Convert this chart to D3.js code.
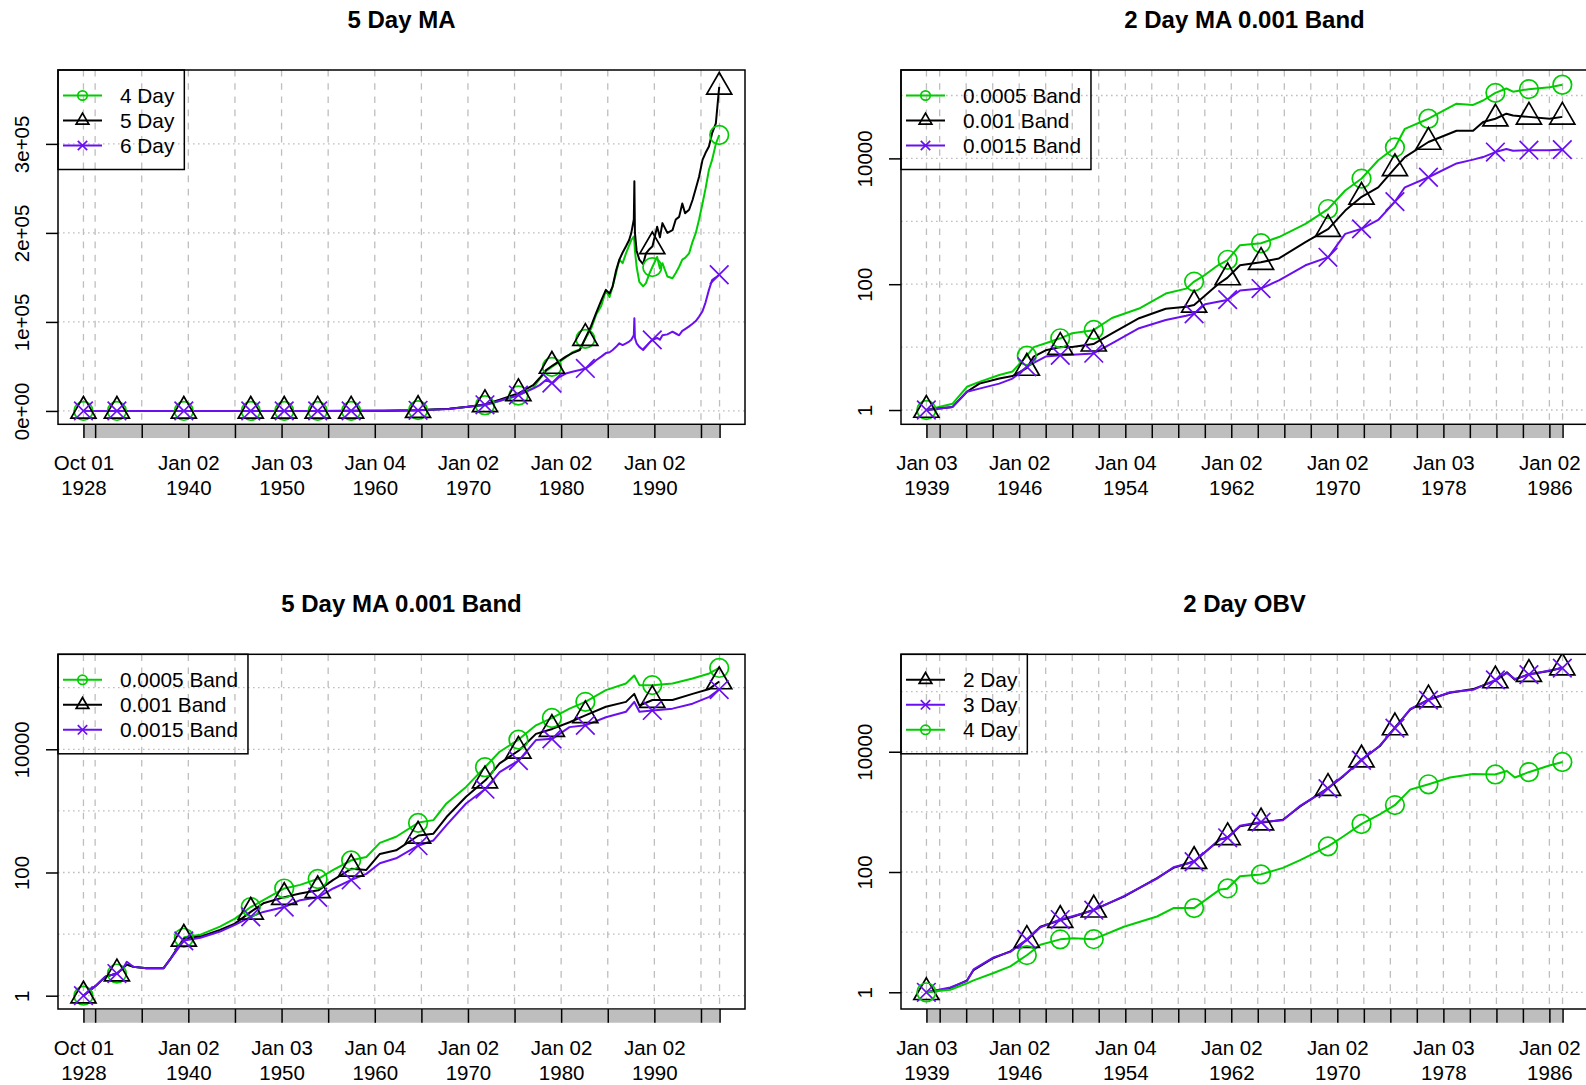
<!DOCTYPE html>
<html><head><meta charset="utf-8">
<script src="https://cdn.jsdelivr.net/npm/d3@7"></script>
<style>
body{margin:0;background:#fff}
svg{display:block}
text{font-family:"Liberation Sans",Arial,Helvetica,sans-serif}
</style>
</head><body>
<svg id="c" width="1586" height="1085"></svg>
<script>
// ---------------- DATA ----------------
const titles = ["5 Day MA", "2 Day MA 0.001 Band", "5 Day MA 0.001 Band", "2 Day OBV"];

// panel 1: 5 Day MA (linear)
const p1Years = [1928.75,1932.39,1936.0,1939.56,1943.0,1946.74,1950.27,1953.91,1957.55,1961.0,1964.62,1968.0,1970.0,1971.9,1973.4,1975.47,1977.0,1977.7,1978.4,1979.08,1979.8,1980.5,1981.2,1982.0,1982.7,1983.2,1983.75,1984.3,1984.8,1985.2,1985.53,1985.9,1986.25,1986.6,1986.96,1987.3,1987.53,1987.8,1987.86,1987.92,1988.1,1988.39,1988.8,1989.1,1989.5,1989.8,1990.3,1990.6,1990.87,1991.4,1991.95,1992.3,1992.66,1993.0,1993.3,1993.73,1994.1,1994.45,1994.8,1995.17,1995.5,1995.86,1996.2,1996.6,1996.96];
const p1Day4 = [1,2,3,5,9,16,28,50,100,250,900,2600,4800,6500,11000,17500,26000,36000,45000,50000,55000,60000,66000,69000,83000,92000,108000,118000,135000,128000,140000,155000,170000,166000,177000,186000,192000,196000,190000,180000,162000,145000,140000,143500,155000,162000,173000,160000,166000,151000,149000,155000,162000,170000,172000,177000,190000,200000,215000,233000,250000,271000,282000,300000,310000];
const p1Day5 = [1,2,3,5,8,15,26,45,90,220,800,2500,4800,7500,12500,20000,29000,37000,46000,51000,56000,61000,65000,68500,84000,95000,110000,124000,136000,132000,140000,158000,170000,178000,185000,192000,200000,215000,258000,200000,180000,170000,165000,177000,182000,185000,207000,195000,211000,200000,203000,215000,218000,233000,222000,226000,237000,250000,263000,282000,290000,297000,312000,323000,364000];
const p1Day6 = [1,2,3,5,8,14,24,40,80,190,700,2300,4700,7000,11500,18000,25000,29000,35000,31000,38000,42000,44000,46000,48000,52000,57000,61000,65000,66000,68500,72000,76000,74000,76000,78000,80000,85000,104000,82000,76000,72000,68500,72000,77000,80000,82000,80000,85000,86000,89000,87000,85000,90000,92000,95000,98000,101000,106000,112000,122000,136000,147000,150000,153000];

// panel 2: 2 Day MA 0.001 Band (log)
const p2Years = [1939.0,1940.98,1942.06,1943.0,1944.5,1945.5,1946.6,1947.1,1948.0,1949.1,1950.0,1951.6,1953.0,1955.05,1957.06,1958.6,1959.2,1960.03,1961.0,1961.7,1962.66,1964.24,1965.6,1967.6,1969.33,1970.6,1971.84,1973.09,1974.34,1975.1,1976.88,1979.0,1980.25,1981.0,1981.93,1982.76,1983.26,1984.44,1986.02,1986.98];
const p2Band0005 = [1,1.26,2.34,2.8,3.6,4.1,7.4,10,11.5,13.8,16.6,18.6,29,41,71,85,110,141,200,240,417,447,562,912,1580,3090,4790,9330,14800,29500,42700,74100,70800,83200,110000,129000,115000,126000,135000,148000];
const p2Band001  = [1,1.12,1.95,2.63,3.16,3.47,4.68,7.08,8.9,10,10,11.2,16.6,28.8,40.7,43.7,46.8,66,100,126,200,224,257,468,759,1480,2450,3470,6920,10500,18200,27500,27500,38000,42700,51300,47900,45700,42700,45700];
const p2Band0015 = [1,1.12,1.95,2.19,2.63,3.16,4.9,5.62,7.08,7.41,7.59,7.94,11.5,20,26.9,31.6,33.9,47.9,52.5,56.2,79.4,85.1,115,200,269,631,759,1050,2040,3470,5010,8320,9550,10500,12600,14100,13200,13500,13500,13800];

// panel 3: 5 Day MA 0.001 Band (log)
const p3Years = [1928.75,1930.14,1931.1,1932.35,1933.0,1933.4,1934.1,1935.5,1937.35,1938.1,1939.56,1941.3,1943.4,1945.0,1946.7,1948.05,1950.3,1952.0,1953.95,1955.55,1957.5,1959.1,1960.55,1962.3,1964.7,1966.3,1967.7,1969.8,1971.9,1973.4,1975.47,1977.3,1979.05,1980.9,1982.6,1984.8,1986.96,1987.85,1988.4,1989.8,1991.95,1994.1,1995.9,1996.96];
const p3Band0005 = [1,1.48,2.04,2.29,2.8,3.2,2.95,2.8,2.8,4.0,8.9,9.8,13.2,17.8,27.5,35.5,55,63,79,110,158,178,302,380,646,708,1320,2450,5250,9120,14500,24500,32400,45700,58900,91200,117000,158000,110000,110000,117000,141000,170000,209000];
const p3Band001  = [1,1.48,2.04,2.29,2.8,3.2,2.95,2.8,2.8,4.0,8.5,9.1,11.7,14.8,22.9,31.6,39.8,45.7,51.3,76,115,110,200,229,398,427,794,1700,3160,5890,9550,17800,21400,27500,35500,49000,58900,79400,51300,63100,63100,79400,95500,126000];
const p3Band0015 = [1,1.48,2.04,2.29,2.8,3.55,2.95,2.8,2.8,4.0,7.9,8.7,11,14.1,19.1,22.9,27.5,35.5,39.8,55,76,95,141,170,275,331,589,1320,2290,4270,6610,14100,14800,22900,24500,33100,40700,58900,40700,42700,45700,55000,70800,93300];

// panel 4: 2 Day OBV (log)
const p4Years = [1939.0,1940.8,1942.07,1942.56,1944.07,1945.33,1946.6,1947.6,1949.1,1950.1,1951.6,1953.9,1956.4,1957.64,1959.2,1961.16,1961.7,1962.66,1964.24,1965.9,1967.2,1969.33,1970.45,1971.84,1973.2,1974.34,1975.5,1976.9,1978.5,1980.25,1981.9,1982.8,1983.4,1984.44,1986.0,1987.0];
const p4Day2 = [1,1.17,1.58,2.34,3.72,4.79,7.41,12.3,15.8,18.2,23.4,38.9,79.4,117,151,347,372,575,661,741,1230,2510,3890,7410,12300,25100,50100,74100,95500,110000,151000,209000,158000,195000,219000,251000];
const p4Day3 = [1,1.2,1.55,2.4,3.8,4.7,7.6,12.0,16.2,18.6,23.0,39.8,77.6,120,148,355,365,589,676,724,1260,2460,3980,7240,12600,24500,51300,72400,97700,107000,155000,204000,162000,191000,224000,246000];
const p4Day4 = [1,1.1,1.41,1.58,2.09,2.69,4.17,6.17,7.59,7.94,7.59,12.3,18.2,25.1,25.1,51.3,52.5,85.1,91.2,117,158,269,389,631,912,1290,2340,2880,3720,4270,4170,4790,3720,4570,5890,6760];

// marker positions (decimal years)
const markerYearsA = [1928.75,1932.34,1939.52,1946.70,1950.29,1953.88,1957.47,1964.65,1971.83,1975.42,1979.01,1982.60,1989.78,1996.96];
const markerYearsB = [1939.0,1946.58,1949.10,1951.63,1959.20,1961.73,1964.25,1969.30,1971.83,1974.35,1976.88,1981.93,1984.46,1986.98];

// x axis ticks
const tickDatesA = ["1928-10-01","1930-01-02","1935-01-02","1940-01-02","1945-01-02","1950-01-03","1955-01-03","1960-01-04","1965-01-04","1970-01-02","1975-01-02","1980-01-02","1985-01-02","1990-01-02","1995-01-03","1996-12-31"];
const tickLabelsA = ["Oct 01\n1928","","","Jan 02\n1940","","Jan 03\n1950","","Jan 04\n1960","","Jan 02\n1970","","Jan 02\n1980","","Jan 02\n1990","",""];
const tickDatesB = ["1939-01-03","1940-01-02","1942-01-02","1944-01-03","1946-01-02","1948-01-02","1950-01-03","1952-01-02","1954-01-04","1956-01-03","1958-01-02","1960-01-04","1962-01-02","1964-01-02","1966-01-03","1968-01-02","1970-01-02","1972-01-03","1974-01-02","1976-01-02","1978-01-03","1980-01-02","1982-01-04","1984-01-03","1986-01-02","1986-12-31"];
const tickLabelsB = ["Jan 03\n1939","","","","Jan 02\n1946","","","","Jan 04\n1954","","","","Jan 02\n1962","","","","Jan 02\n1970","","","","Jan 03\n1978","","","","Jan 02\n1986",""];

// y axis ticks
const linYTicks = [0,100000,200000,300000];
const linYTickLabels = ["0e+00","1e+05","2e+05","3e+05"];
const logYTicks = [1,100,10000];
const logYTickLabels = ["1","100","10000"];
const logYGrid = [1,10,100,1000,10000,100000];

// legend labels
const legend1 = ["4 Day","5 Day","6 Day"];
const legendBand = ["0.0005 Band","0.001 Band","0.0015 Band"];
const legend4 = ["2 Day","3 Day","4 Day"];

// ---------------- STYLE / LAYOUT ----------------
const GREEN = "#00CD00", BLACK = "#000000", PURPLE = "#6A10F0";
const GRID = "#BEBEBE";
const AXIS_FS = "20.5px", LEG_FS = "20.8px", TITLE_FS = "24px";
const LINE_W = 2.0, SYM_W = 1.7;

const pd = d3.utcParse("%Y-%m-%d");
function yr(v){ const a=Math.floor(v); const s=Date.UTC(a,0,1), e=Date.UTC(a+1,0,1); return new Date(s+(v-a)*(e-s)); }

const panels = [
  {title:titles[0], box:[58,70,745,424.3], log:false, yDomain:[-15000,383000],
   yTicks:linYTicks, yLabels:linYTickLabels, yGrid:linYTicks, years:p1Years,
   series:[{v:p1Day4,c:GREEN,s:"circle",n:legend1[0]},{v:p1Day5,c:BLACK,s:"triangle",n:legend1[1]},{v:p1Day6,c:PURPLE,s:"cross",n:legend1[2]}],
   xStart:"1928-10-01", xEnd:"1996-12-31", ticks:tickDatesA, labels:tickLabelsA, markers:markerYearsA},
  {title:titles[1], box:[901,70,1588,424.3], log:true, yLog:[-0.227,5.405],
   yTicks:logYTicks, yLabels:logYTickLabels, yGrid:logYGrid, years:p2Years,
   series:[{v:p2Band0005,c:GREEN,s:"circle",n:legendBand[0]},{v:p2Band001,c:BLACK,s:"triangle",n:legendBand[1]},{v:p2Band0015,c:PURPLE,s:"cross",n:legendBand[2]}],
   xStart:"1939-01-03", xEnd:"1986-12-31", ticks:tickDatesB, labels:tickLabelsB, markers:markerYearsB},
  {title:titles[2], box:[58,654.3,745,1009], log:true, yLog:[-0.216,5.542],
   yTicks:logYTicks, yLabels:logYTickLabels, yGrid:logYGrid, years:p3Years,
   series:[{v:p3Band0005,c:GREEN,s:"circle",n:legendBand[0]},{v:p3Band001,c:BLACK,s:"triangle",n:legendBand[1]},{v:p3Band0015,c:PURPLE,s:"cross",n:legendBand[2]}],
   xStart:"1928-10-01", xEnd:"1996-12-31", ticks:tickDatesA, labels:tickLabelsA, markers:markerYearsA},
  {title:titles[3], box:[901,654.3,1588,1009], log:true, yLog:[-0.278,5.62],
   yTicks:logYTicks, yLabels:logYTickLabels, yGrid:logYGrid, years:p4Years,
   series:[{v:p4Day2,c:BLACK,s:"triangle",n:legend4[0]},{v:p4Day3,c:PURPLE,s:"cross",n:legend4[1]},{v:p4Day4,c:GREEN,s:"circle",n:legend4[2]}],
   xStart:"1939-01-03", xEnd:"1986-12-31", ticks:tickDatesB, labels:tickLabelsB, markers:markerYearsB}
];

const svg = d3.select("#c");
const defs = svg.append("defs");

function drawSym(g, type, cx, cy, R, col){
  if(type==="circle"){
    g.append("circle").attr("cx",cx).attr("cy",cy).attr("r",R).attr("fill","none").attr("stroke",col).attr("stroke-width",SYM_W);
  } else if(type==="triangle"){
    const r=1.5551*R, xc=1.3468*R, yc=0.7776*R;
    g.append("path").attr("d",`M${cx},${cy-r}L${cx+xc},${cy+yc}L${cx-xc},${cy+yc}Z`).attr("fill","none").attr("stroke",col).attr("stroke-width",SYM_W).attr("stroke-linejoin","miter");
  } else {
    g.append("path").attr("d",`M${cx-R},${cy-R}L${cx+R},${cy+R}M${cx-R},${cy+R}L${cx+R},${cy-R}`).attr("fill","none").attr("stroke",col).attr("stroke-width",SYM_W);
  }
}

function interp(years, vals, t, log){
  const i = d3.bisectLeft(years, t);
  if(i<=0) return vals[0];
  if(i>=years.length) return vals[vals.length-1];
  if(years[i]===t) return vals[i];
  const f=(t-years[i-1])/(years[i]-years[i-1]);
  return log ? Math.exp(Math.log(vals[i-1])*(1-f)+Math.log(vals[i])*f) : vals[i-1]*(1-f)+vals[i]*f;
}

panels.forEach((p,pi)=>{
  const [x0,y0,x1,y1] = p.box;
  const w = x1-x0, h = y1-y0, pad = w*0.04/1.08;
  const x = d3.scaleUtc().domain([pd(p.xStart), pd(p.xEnd)]).range([x0+pad, x1-pad]);
  const y = p.log ? d3.scaleLog().domain([Math.pow(10,p.yLog[0]), Math.pow(10,p.yLog[1])]).range([y1,y0])
                  : d3.scaleLinear().domain(p.yDomain).range([y1,y0]);
  const g = svg.append("g");
  defs.append("clipPath").attr("id","clip"+pi).append("rect").attr("x",x0).attr("y",y0).attr("width",w).attr("height",h);

  // grid
  g.append("g").selectAll("line").data(p.yGrid).join("line")
    .attr("x1",x0).attr("x2",x1).attr("y1",d=>y(d)).attr("y2",d=>y(d))
    .attr("stroke",GRID).attr("stroke-width",1.3).attr("stroke-dasharray","1.6,3.4");
  g.append("g").selectAll("line").data(p.ticks).join("line")
    .attr("x1",d=>x(pd(d))).attr("x2",d=>x(pd(d))).attr("y1",y0).attr("y2",y1)
    .attr("stroke",GRID).attr("stroke-width",1.3).attr("stroke-dasharray","6.6,6.6");

  // series
  const plot = g.append("g").attr("clip-path",`url(#clip${pi})`);
  const dates = p.years.map(yr);
  p.series.forEach(s=>{
    const line = d3.line().x((d,i)=>x(dates[i])).y(d=>y(d));
    plot.append("path").attr("d",line(s.v)).attr("fill","none").attr("stroke",s.c)
      .attr("stroke-width",LINE_W).attr("stroke-linejoin","round");
  });
  p.series.forEach(s=>{
    p.markers.forEach(m=>{
      drawSym(plot, s.s, x(yr(m)), y(interp(p.years, s.v, m, p.log)), 9.3, s.c);
    });
  });

  // box
  g.append("rect").attr("x",x0).attr("y",y0).attr("width",w).attr("height",h)
    .attr("fill","none").attr("stroke","#000").attr("stroke-width",1.5);

  // x axis gray bar + ticks
  g.append("rect").attr("x",x(pd(p.xStart))).attr("y",y1+0.75)
    .attr("width",x(pd(p.xEnd))-x(pd(p.xStart))).attr("height",13)
    .attr("fill","#BEBEBE");
  const xa = g.append("g").attr("transform",`translate(0,${y1})`)
    .call(d3.axisBottom(x).tickValues(p.ticks.map(pd)).tickSize(13.8).tickSizeOuter(0)
          .tickFormat((d,i)=>p.labels[i]));
  xa.select(".domain").remove();
  xa.selectAll(".tick line").attr("stroke","#000").attr("stroke-width",1.5);
  xa.selectAll(".tick text").each(function(){
    const t = d3.select(this);
    const parts = t.text().split("\n");
    t.text(null).attr("y",null).attr("dy",null).attr("fill","#000")
      .style("font-size",AXIS_FS).attr("font-family",null);
    parts.forEach((s,k)=>{ if(s) t.append("tspan").attr("x",0).attr("y",45.8+25*k).text(s); });
  });

  // y axis
  const ya = g.append("g").attr("transform",`translate(${x0},0)`)
    .call(d3.axisLeft(y).tickValues(p.yTicks).tickSize(12).tickSizeOuter(0)
          .tickFormat((d,i)=>p.yLabels[i]));
  ya.select(".domain").remove();
  ya.selectAll(".tick line").attr("stroke","#000").attr("stroke-width",1.5);
  ya.selectAll(".tick text").attr("x",null).attr("dy",null).attr("text-anchor","middle")
    .attr("fill","#000").attr("font-family",null).style("font-size",AXIS_FS)
    .attr("transform","translate(-29,0) rotate(-90)");

  // title
  g.append("text").attr("x",(x0+x1)/2).attr("y",y0-42).attr("text-anchor","middle")
    .style("font-size",TITLE_FS).style("font-weight","bold").text(p.title);

  // legend
  const lg = g.append("g").attr("transform",`translate(${x0},${y0})`);
  const texts = [];
  p.series.forEach((s,i)=>{
    const cy = 25.5+25*i;
    lg.append("line").attr("x1",5).attr("x2",44).attr("y1",cy).attr("y2",cy)
      .attr("stroke",s.c).attr("stroke-width",LINE_W);
    drawSym(lg, s.s, 24.5, cy, 4.7, s.c);
    texts.push(lg.append("text").attr("x",62).attr("y",cy+7.3).style("font-size",LEG_FS).text(s.n).node());
  });
  const maxW = d3.max(texts, n=>n.getComputedTextLength());
  lg.insert("rect",":first-child").attr("x",0).attr("y",0).attr("width",62+maxW+10).attr("height",99.5)
    .attr("fill","none").attr("stroke","#000").attr("stroke-width",1.5);
});
</script>
</body></html>
